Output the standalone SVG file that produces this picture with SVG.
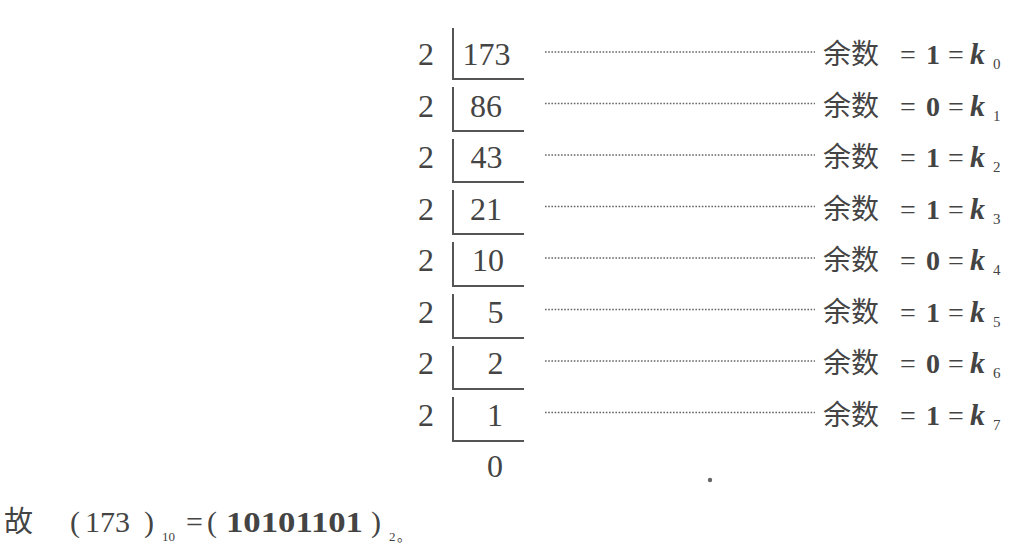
<svg xmlns="http://www.w3.org/2000/svg" width="1034" height="543" viewBox="0 0 1034 543">
<style>
.num{font-family:"Liberation Serif","Times New Roman",serif;font-size:32px;fill:#444;text-anchor:middle}
.cjk{font-family:"Noto Sans CJK SC","Noto Sans CJK JP",sans-serif;font-size:28px;fill:#444}
.m{font-family:"Liberation Serif","Times New Roman",serif;font-size:28px;fill:#444}
.b{font-weight:bold}
.k{font-weight:bold;font-style:italic;font-size:30px}
.sub{font-family:"Liberation Serif","Times New Roman",serif;font-size:15px;fill:#444}
.rule{stroke:#555;stroke-width:2;fill:none}
.dot{stroke:#666;stroke-width:1.4;stroke-dasharray:1.6 1.6;fill:none}
</style>
<rect width="1034" height="543" fill="#fff"/>
<g id="division">
<g id="row0"><text class="num" x="426" y="65">2</text><text class="num" x="486.5" y="65">173</text><path class="rule" d="M453 28V79H524"/></g>
<g id="row1"><text class="num" x="426" y="116.5">2</text><text class="num" x="486" y="116.5">86</text><path class="rule" d="M453 87V131H524"/></g>
<g id="row2"><text class="num" x="426" y="168">2</text><text class="num" x="486.5" y="168">43</text><path class="rule" d="M453 139V182H524"/></g>
<g id="row3"><text class="num" x="426" y="219.5">2</text><text class="num" x="486" y="219.5">21</text><path class="rule" d="M453 190V234H524"/></g>
<g id="row4"><text class="num" x="426" y="271">2</text><text class="num" x="488" y="271">10</text><path class="rule" d="M453 242V286H524"/></g>
<g id="row5"><text class="num" x="426" y="322.5">2</text><text class="num" x="495.5" y="322.5">5</text><path class="rule" d="M453 294V338H524"/></g>
<g id="row6"><text class="num" x="426" y="374">2</text><text class="num" x="495.5" y="374">2</text><path class="rule" d="M453 346V389H524"/></g>
<g id="row7"><text class="num" x="426" y="425.5">2</text><text class="num" x="495" y="425.5">1</text><path class="rule" d="M453 397V441H524"/></g>
<g id="row8"><text class="num" x="495" y="477">0</text></g>
</g>
<g id="connectors">
<path class="dot" d="M545 52H815"/>
<path class="dot" d="M545 103.5H815"/>
<path class="dot" d="M545 155H815"/>
<path class="dot" d="M545 206.5H815"/>
<path class="dot" d="M545 258H815"/>
<path class="dot" d="M545 309.5H815"/>
<path class="dot" d="M545 361H815"/>
<path class="dot" d="M545 412.5H815"/>
</g>
<g id="labels">
<g id="k0"><text class="cjk" x="823" y="64">余数</text><text class="m" y="64"><tspan x="900">=</tspan><tspan class="b" x="926">1</tspan><tspan x="948">=</tspan><tspan class="k" x="970">k</tspan></text><text class="sub" x="993" y="69">0</text></g>
<g id="k1"><text class="cjk" x="823" y="115.5">余数</text><text class="m" y="115.5"><tspan x="900">=</tspan><tspan class="b" x="926">0</tspan><tspan x="948">=</tspan><tspan class="k" x="970">k</tspan></text><text class="sub" x="993" y="120.5">1</text></g>
<g id="k2"><text class="cjk" x="823" y="167">余数</text><text class="m" y="167"><tspan x="900">=</tspan><tspan class="b" x="926">1</tspan><tspan x="948">=</tspan><tspan class="k" x="970">k</tspan></text><text class="sub" x="993" y="172">2</text></g>
<g id="k3"><text class="cjk" x="823" y="218.5">余数</text><text class="m" y="218.5"><tspan x="900">=</tspan><tspan class="b" x="926">1</tspan><tspan x="948">=</tspan><tspan class="k" x="970">k</tspan></text><text class="sub" x="993" y="223.5">3</text></g>
<g id="k4"><text class="cjk" x="823" y="270">余数</text><text class="m" y="270"><tspan x="900">=</tspan><tspan class="b" x="926">0</tspan><tspan x="948">=</tspan><tspan class="k" x="970">k</tspan></text><text class="sub" x="993" y="275">4</text></g>
<g id="k5"><text class="cjk" x="823" y="321.5">余数</text><text class="m" y="321.5"><tspan x="900">=</tspan><tspan class="b" x="926">1</tspan><tspan x="948">=</tspan><tspan class="k" x="970">k</tspan></text><text class="sub" x="993" y="326.5">5</text></g>
<g id="k6"><text class="cjk" x="823" y="373">余数</text><text class="m" y="373"><tspan x="900">=</tspan><tspan class="b" x="926">0</tspan><tspan x="948">=</tspan><tspan class="k" x="970">k</tspan></text><text class="sub" x="993" y="378">6</text></g>
<g id="k7"><text class="cjk" x="823" y="424.5">余数</text><text class="m" y="424.5"><tspan x="900">=</tspan><tspan class="b" x="926">1</tspan><tspan x="948">=</tspan><tspan class="k" x="970">k</tspan></text><text class="sub" x="993" y="429.5">7</text></g>
</g>
<circle cx="710" cy="480" r="2.2" fill="#666"/>
<g id="result">
<text class="cjk" x="4" y="532" style="font-size:29px">故</text>
<text class="m" y="532" style="font-size:30px"><tspan x="70">(</tspan><tspan x="85">173</tspan><tspan x="144">)</tspan></text>
<text class="sub" x="162" y="541" style="font-size:13px">10</text>
<text class="m" x="186" y="532" style="font-size:30px">=</text>
<text class="m" y="532" style="font-size:30px"><tspan x="207">(</tspan><tspan class="b" x="226" textLength="137" lengthAdjust="spacingAndGlyphs">10101101</tspan><tspan x="371">)</tspan></text>
<text class="sub" x="389" y="541" style="font-size:13px">2</text>
<text class="cjk" x="397" y="541" style="font-size:14px">。</text>
</g>
</svg>
